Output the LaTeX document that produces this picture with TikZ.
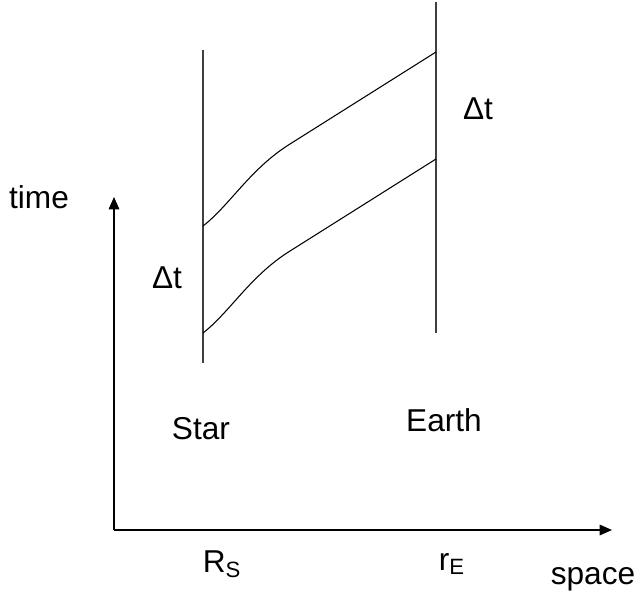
\documentclass[tikz,border=0pt]{standalone}
\usepackage{fontspec}
\setmainfont{Liberation Sans}
\usetikzlibrary{arrows.meta}
\usetikzlibrary{positioning}

\begin{document}
\begin{tikzpicture}[x=0.02cm,y=-0.02cm]
\useasboundingbox (0,0) rectangle (640,596);

\begin{scope}
    \coordinate (o) at (114,530);
    \coordinate (tend) at (114,197);
    \coordinate (send) at (612,530);
    \coordinate (star1) at (203,50);
    \coordinate (star2) at (203,363);
    \coordinate (earth1) at (436,2);
    \coordinate (earth2) at (436,333);
    \coordinate (a1) at (203,226);
    \coordinate (k1) at (290,144);
    \coordinate (b1) at (436,52);
    \coordinate (a2) at (203,333);
    \coordinate (k2) at (290,251);
    \coordinate (b2) at (436,159);
\end{scope}

\begin{scope}[every node/.style={font=\fontsize{18}{20}\selectfont}]
    \node (time) at (39,197) {time};
    \node (dts) at (167,278) {Δt};
    \node (dte) at (478,109) {Δt};
    \node (star) at (201,429) {Star};
    \node (earth) at (444,420) {Earth};
    \node (rs) at (222,564) {R\textsubscript{S}};
    \node (re) at (452,564) {r\textsubscript{E}};
    \node (space) at (593,579) {space};
\end{scope}

\begin{scope}[line width=0.8pt]
    \foreach \u/\v in {o/tend, o/send}
        \draw [-{Triangle[length=7pt,width=6pt]}] (\u) -- (\v);
    \foreach \u/\v in {star1/star2, earth1/earth2}
        \draw [black!75] (\u) -- (\v);
\end{scope}

\begin{scope}[line width=0.6pt]
    \draw (a1) .. controls (230,205) and (250,169) .. (k1) -- (b1);
    \draw (a2) .. controls (230,312) and (250,276) .. (k2) -- (b2);
\end{scope}
\end{tikzpicture}
\end{document}
